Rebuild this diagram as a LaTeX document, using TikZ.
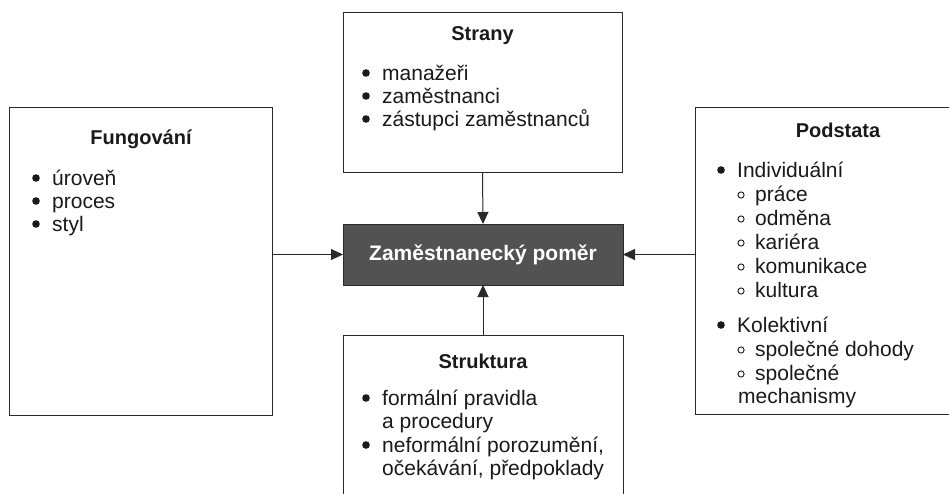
\documentclass[tikz,border=0pt]{standalone}
\usepackage{fontspec}
\setmainfont{Liberation Sans}
\usetikzlibrary{arrows.meta}
\definecolor{linec}{HTML}{2A2A2A}
\definecolor{corefill}{HTML}{525252}
\definecolor{textc}{HTML}{1A1A1A}
\newcommand\bodyfont{\fontsize{21}{24}\selectfont}
% filled bullet item: bullet x, text x, baseline y, name, text
\newcommand\fullitem[5]{%
  \fill[textc] (#1,#3-7) circle (3.8pt);
  \node[item] (#4) at (#2,#3) {#5};}
% open-circle sub item
\newcommand\openitem[5]{%
  \draw[textc, line width=0.9pt] (#1,#3-6) circle (3.1pt);
  \node[item] (#4) at (#2,#3) {#5};}
% continuation line without bullet
\newcommand\moreline[4]{\node[item] (#3) at (#1,#2) {#4};}
\begin{document}
\begin{tikzpicture}[x=1pt,y=-1pt,
  box/.style={draw=linec, line width=1pt, fill=white, anchor=north west,
    inner sep=0pt, outer sep=0pt},
  core/.style={draw=linec, line width=1pt, fill=corefill, text=white,
    font=\bfseries\fontsize{21}{24}\selectfont, inner sep=0pt, outer sep=0pt},
  title/.style={font=\bfseries\fontsize{20}{24}\selectfont, anchor=base,
    inner sep=0pt, text=textc},
  item/.style={font=\bodyfont, anchor=base west, inner sep=0pt, text=textc},
  link/.style={draw=linec, line width=1pt, -{Triangle[length=12pt,width=11pt]}},
]
\useasboundingbox (0,0) rectangle (949,493);
\clip (0,0) rectangle (949,493);

% frames
\node[box, minimum width=279pt, minimum height=160pt] (strany) at (343,12) {};
\node[box, minimum width=263pt, minimum height=308pt] (fung) at (9,107) {};
\node[box, minimum width=280pt, minimum height=307pt] (podstata) at (695,107) {};
\node[box, minimum width=280pt, minimum height=180pt] (struktura) at (343,335) {};
\node[core, minimum width=280pt, minimum height=61pt, anchor=north west]
  (core) at (343,224) {Zaměstnanecký poměr};

% connectors
\draw[link] (strany.south) -- (core.north);
\draw[link] (struktura.north) -- (core.south);
\draw[link] (fung.east |- core.west) -- (core.west);
\draw[link] (podstata.west |- core.east) -- (core.east);

% Strany
\node[title] (tstrany) at (482.5,40) {Strany};
\fullitem{366}{382}{80}{s1}{manažeři}
\fullitem{366}{382}{103}{s2}{zaměstnanci}
\fullitem{366}{382}{126}{s3}{zástupci zaměstnanců}

% Fungovani
\node[title] (tfung) at (141,144) {Fungování};
\fullitem{36}{52}{185}{f1}{úroveň}
\fullitem{36}{52}{208}{f2}{proces}
\fullitem{36}{52}{231}{f3}{styl}

% Podstata
\node[title] (tpod) at (838,137) {Podstata};
\fullitem{721}{737}{177}{p1}{Individuální}
\openitem{741}{755}{201}{p11}{práce}
\openitem{741}{755}{225}{p12}{odměna}
\openitem{741}{755}{249}{p13}{kariéra}
\openitem{741}{755}{273}{p14}{komunikace}
\openitem{741}{755}{297}{p15}{kultura}
\fullitem{721}{737}{332}{p2}{Kolektivní}
\openitem{741}{755}{356}{p21}{společné dohody}
\openitem{741}{755}{380}{p22}{společné}
\moreline{738}{403}{p23}{mechanismy}

% Struktura
\node[title] (tstr) at (483,368) {Struktura};
\fullitem{366}{382}{405}{k1}{formální pravidla}
\moreline{382}{428}{k1b}{a procedury}
\fullitem{366}{382}{452}{k2}{neformální porozumění,}
\moreline{382}{475}{k2b}{očekávání, předpoklady}
\end{tikzpicture}
\end{document}
